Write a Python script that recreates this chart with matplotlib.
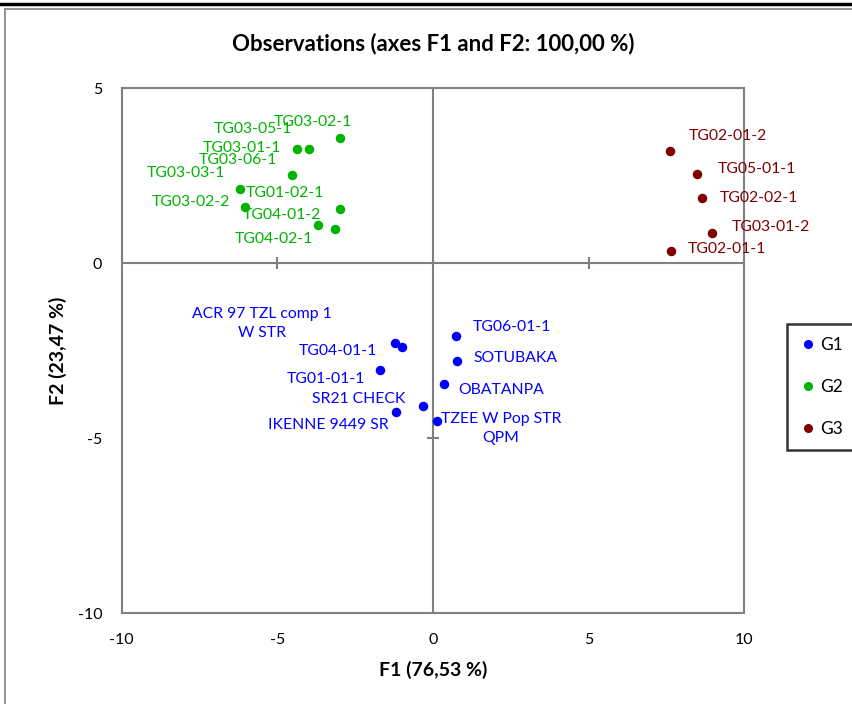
import matplotlib.pyplot as plt
from matplotlib.patches import Rectangle
from matplotlib.lines import Line2D

plt.rcParams['font.family'] = ['Lato', 'DejaVu Sans']
plt.rcParams['axes.unicode_minus'] = False

# observations (F1, F2) by group
g1_names = ["ACR 97 TZL comp 1\nW STR", "TG04-01-1", "TG01-01-1", "SR21 CHECK",
            "IKENNE 9449 SR", "TG06-01-1", "SOTUBAKA", "OBATANPA", "TZEE W Pop STR\nQPM"]
g1_f1 = [-1.00, -1.22, -1.70, -0.31, -1.20, 0.73, 0.78, 0.34, 0.12]
g1_f2 = [-2.39, -2.29, -3.06, -4.09, -4.26, -2.09, -2.80, -3.46, -4.52]

g2_names = ["TG03-02-1", "TG03-05-1", "TG03-01-1", "TG03-06-1", "TG03-03-1",
            "TG01-02-1", "TG03-02-2", "TG04-01-2", "TG04-02-1"]
g2_f1 = [-2.99, -3.99, -4.38, -4.54, -6.20, -2.99, -6.03, -3.70, -3.14]
g2_f2 = [3.56, 3.27, 3.27, 2.51, 2.11, 1.55, 1.60, 1.10, 0.98]

g3_names = ["TG02-01-2", "TG05-01-1", "TG02-02-1", "TG03-01-2", "TG02-01-1"]
g3_f1 = [7.61, 8.47, 8.63, 8.96, 7.64]
g3_f2 = [3.19, 2.55, 1.85, 0.86, 0.36]

x_ticks = [-10, -5, 0, 5, 10]
y_ticks = [-10, -5, 0, 5]

# label offsets in pixels (dx, dy up)
g1_off = [(-140, 23), (-57, -8), (-54, -9), (-65, 7), (-67, -13),
          (56, 9), (58, 3), (58, -6), (64, -7)]
g2_off = [(-27, 16), (-56, 20), (-55, 1), (-54, 15), (-54, 16),
          (-55, 16), (-54, 5), (-36, 10), (-61, -10)]
g3_off = [(58, 15), (60, 5), (57, 0), (59, 6), (56, 2)]

groups = [
    ("G1", g1_f1, g1_f2, g1_names, g1_off, "#0000FF"),
    ("G2", g2_f1, g2_f2, g2_names, g2_off, "#00B400"),
    ("G3", g3_f1, g3_f2, g3_names, g3_off, "#800000"),
]

fig = plt.figure(figsize=(8.53, 7.04), dpi=100)
ax = fig.add_axes([0.1427, 0.1288, 0.7299, 0.7462])

grey = "#808080"
ax.axhline(0, color=grey, lw=1.5, zorder=1)
ax.axvline(0, color=grey, lw=1.5, zorder=1)
# cross ticks on the centre lines
for t in x_ticks[1:-1]:
    if t != 0:
        ax.plot(t, 0, marker='|', ms=9, mew=1.5, color=grey, zorder=1)
for t in y_ticks[1:-1]:
    if t != 0:
        ax.plot(0, t, marker='_', ms=9, mew=1.5, color=grey, zorder=1)

handles = []
for name, xs, ys, labels, offs, col in groups:
    ax.scatter(xs, ys, s=34, color=col, zorder=3)
    for x, y, lab, (dx, dy) in zip(xs, ys, labels, offs):
        ax.annotate(lab, (x, y), xytext=(dx, dy), textcoords='offset pixels',
                    ha='center', va='center', color=col, fontsize=11.3,
                    annotation_clip=False, linespacing=1.45)
    handles.append(Line2D([], [], ls='none', marker='o', ms=5.5, color=col, label=name))

ax.set_xlim(-10, 10)
ax.set_ylim(-10, 5)
ax.set_xticks(x_ticks)
ax.set_yticks(y_ticks)
ax.tick_params(length=0, labelsize=11.5, pad=14)
for s in ax.spines.values():
    s.set_color(grey)
    s.set_linewidth(1.5)

ax.set_title("Observations (axes F1 and F2: 100,00 %)", fontsize=16,
             fontweight='bold', pad=27)
ax.set_xlabel("F1 (76,53 %)", fontsize=14, fontweight='bold', labelpad=10)
ax.set_ylabel("F2 (23,47 %)", fontsize=14, fontweight='bold', labelpad=8)

leg = fig.legend(handles=handles, loc='upper left', bbox_to_anchor=(786.7 / 853, 1 - 324 / 704),
                 frameon=True, fancybox=False, fontsize=12.5, handletextpad=0.2,
                 handlelength=1.0, labelspacing=1.5, borderpad=0.75, borderaxespad=0)
leg.get_frame().set_edgecolor('black')
leg.get_frame().set_linewidth(1.8)

# outer chart frame and document rule
fig.add_artist(Rectangle((5 / 853, -0.01), 1.0, 1 - 9 / 704 + 0.01, transform=fig.transFigure,
                         fill=False, edgecolor=grey, lw=1.2))
fig.add_artist(Line2D([0, 1], [1 - 4 / 704, 1 - 4 / 704], transform=fig.transFigure,
                      color='black', lw=2.5))

fig.savefig("out.png", dpi=100)
